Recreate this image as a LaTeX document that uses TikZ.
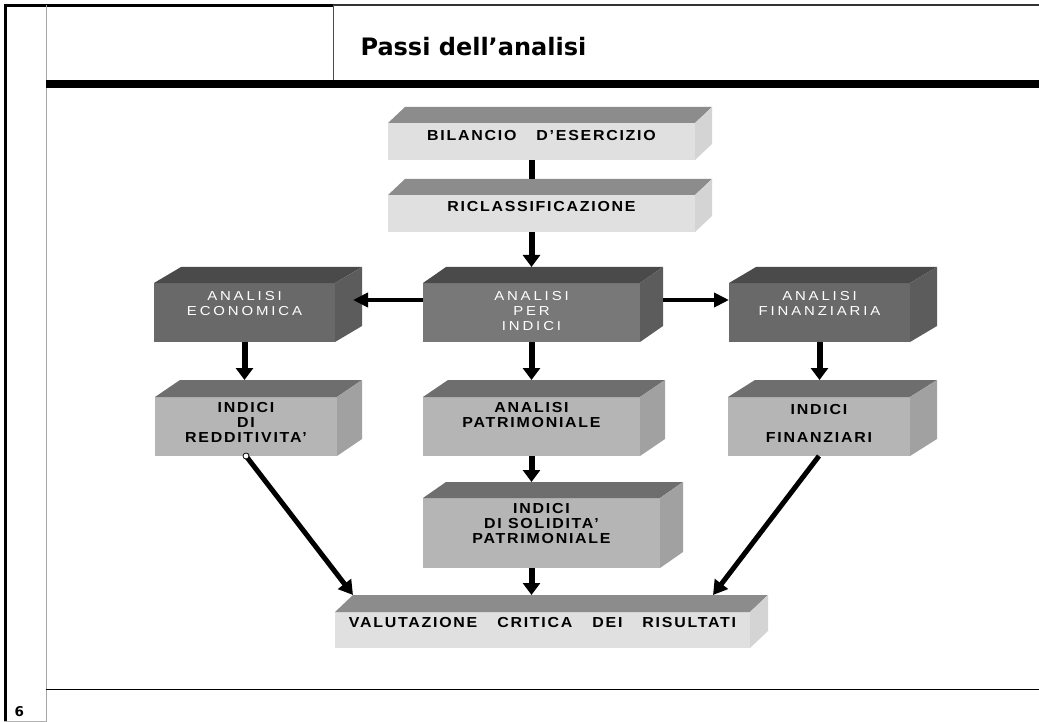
\documentclass[tikz,border=0pt]{standalone}
\usepackage{fontspec}
\usetikzlibrary{arrows.meta,calc}

% Fonts: title, slide number, and the stretched, tracked capitals of the boxes
\newfontfamily\titlefont{DejaVu Sans}
\newfontfamily\capsfont{Liberation Sans}[FakeStretch=1.1,LetterSpace=12]
\newfontfamily\whitecaps{Liberation Sans}[FakeStretch=1.15,LetterSpace=22]

% Face colours of the three kinds of prisms
\definecolor{lightfront}{gray}{0.88}
\definecolor{lighttop}{gray}{0.55}
\definecolor{lightside}{gray}{0.83}
\definecolor{darkfront}{gray}{0.41}
\definecolor{darkfrontb}{gray}{0.47}
\definecolor{darktop}{gray}{0.29}
\definecolor{darkside}{gray}{0.36}
\definecolor{midfront}{gray}{0.71}
\definecolor{midtop}{gray}{0.43}
\definecolor{midside}{gray}{0.63}

% Top and right faces of a prism drawn behind the front face #1
% #2 = depth to the right, #3 = depth upwards, #4 = top colour, #5 = side colour
\newcommand\prismfaces[5]{%
  \fill[#4] (#1.north west) -- ++(#2,-#3) -- ($(#1.north east)+(#2,-#3)$) -- (#1.north east) -- cycle;
  \fill[#5] (#1.north east) -- ++(#2,-#3) -- ($(#1.south east)+(#2,-#3)$) -- (#1.south east) -- cycle;
}
% Text block of a front face: width, height, space above the first line, lines
\newcommand\facetext[4]{\parbox[c][#2pt][t]{#1pt}{\centering\vspace*{#3pt}#4}}

\tikzset{
  face/.style={inner sep=0pt, outer sep=0pt, anchor=center},
  lightface/.style={face, fill=lightfront, font=\capsfont\bfseries\fontsize{14.5}{15}\selectfont},
  midface/.style={face, fill=midfront, font=\capsfont\bfseries\fontsize{14.5}{15}\selectfont},
  darkface/.style={face, fill=darkfront, text=white, font=\whitecaps\fontsize{13}{15}\selectfont},
  vflow/.style={line width=6pt, -{Triangle[length=12pt,width=17pt]}},
  hflow/.style={line width=4pt, -{Triangle[length=15pt,width=14pt]}},
  dflow/.style={line width=5pt, -{Triangle[length=14pt,width=16pt]}},
  joint/.style={line width=6pt},
}

\begin{document}
\begin{tikzpicture}[x=1pt,y=-1pt]
\useasboundingbox (0,0) rectangle (1039,722);
\fill[white] (0,0) rectangle (1039,722);

% Slide frame
\draw[line width=3pt] (5.5,4) -- (5.5,722);
\draw[line width=3pt] (4,5.5) -- (333,5.5);
\draw[line width=2pt, black!80] (333,5.5) -- (1039,5.5);
\draw[line width=1.5pt, gray!70] (46.5,5) -- (46.5,722);
\draw[line width=1pt, black!70] (333,5) -- (333,80);
\fill (46,80) rectangle (1039,88);
\draw[line width=1pt] (46,689.5) -- (1039,689.5);
\draw[gray!60] (4,721.5) -- (46,721.5);

\node[anchor=base west, font=\titlefont\bfseries\fontsize{24}{28}\selectfont] (title) at (357,56) {Passi dell’analisi};
\node[anchor=base west, font=\titlefont\bfseries\fontsize{13.5}{15}\selectfont] (pagenum) at (11,716) {6};

% Front faces
\node[lightface] (bil) at (541.5,141.5) {\facetext{307}{37}{7.5}{BILANCIO\hspace{20pt}D’ESERCIZIO}};
\node[lightface] (ric) at (541.5,213.5) {\facetext{307}{37}{6.5}{RICLASSIFICAZIONE}};
\node[darkface] (eco) at (244.5,312.5) {\facetext{181}{59}{8}{ANALISI\\ECONOMICA}};
\node[darkface, fill=darkfrontb] (ind) at (531.5,312.5) {\facetext{217}{59}{8}{ANALISI\\PER\\INDICI}};
\node[darkface] (fin) at (819.5,312.5) {\facetext{181}{59}{8}{ANALISI\\FINANZIARIA}};
\node[midface] (red) at (246,426.5) {\facetext{182}{59}{5.5}{INDICI\\DI\\REDDITIVITA’}};
\node[midface] (pat) at (531.5,426.5) {\facetext{217}{59}{5.5}{ANALISI\\PATRIMONIALE}};
\node[midface] (fi2) at (819,426.5) {\facetext{182}{59}{7.5}{INDICI\\[13pt]FINANZIARI}};
\node[midface] (sol) at (541.5,533) {\facetext{237}{70}{5.5}{INDICI\\DI SOLIDITA’\\PATRIMONIALE}};
\node[lightface] (val) at (542.5,630) {\facetext{415}{36}{5.5}{VALUTAZIONE\hspace{20pt}CRITICA\hspace{20pt}DEI\hspace{20pt}RISULTATI}};

% Top and side faces
\prismfaces{bil}{17}{16}{lighttop}{lightside}
\prismfaces{ric}{17}{16}{lighttop}{lightside}
\prismfaces{eco}{27}{16}{darktop}{darkside}
\prismfaces{ind}{23}{16}{darktop}{darkside}
\prismfaces{fin}{27}{16}{darktop}{darkside}
\prismfaces{red}{25}{17}{midtop}{midside}
\prismfaces{pat}{25}{17}{midtop}{midside}
\prismfaces{fi2}{27}{17}{midtop}{midside}
\prismfaces{sol}{23}{16}{midtop}{midside}
\prismfaces{val}{18}{17}{lighttop}{lightside}

% Connectors
\draw[joint] (bil.south -| ind.north) -- ($(ric.north -| ind.north)+(0,-16)$);
\draw[vflow] (ric.south -| ind.north) -- ($(ind.north)+(0,-16)$);
\draw[hflow] ($(ind.west)+(0,-12.5)$) -- ($(eco.east)+(18,-12.5)$);
\draw[hflow] ($(ind.east)+(23,-12.5)$) -- ($(fin.west)+(0,-12.5)$);
\draw[vflow] (eco.south) -- ($(eco.south |- red.north)+(0,-17)$);
\draw[vflow] (ind.south) -- ($(pat.north)+(0,-17)$);
\draw[vflow] (fin.south) -- ($(fin.south |- fi2.north)+(0,-17)$);
\draw[vflow] (pat.south) -- ($(pat.south |- sol.north)+(0,-16)$);
\draw[vflow] (sol.south -| pat.south) -- ($(pat.south |- val.north)+(0,-17)$);
\draw[dflow] (red.south) -- ($(val.north west)+(18,-17)$);
\draw[dflow] (fi2.south) -- ($(val.north west)+(378,-17)$);
\draw[fill=white, line width=0.8pt] (red.south) circle (3pt);
\end{tikzpicture}
\end{document}
